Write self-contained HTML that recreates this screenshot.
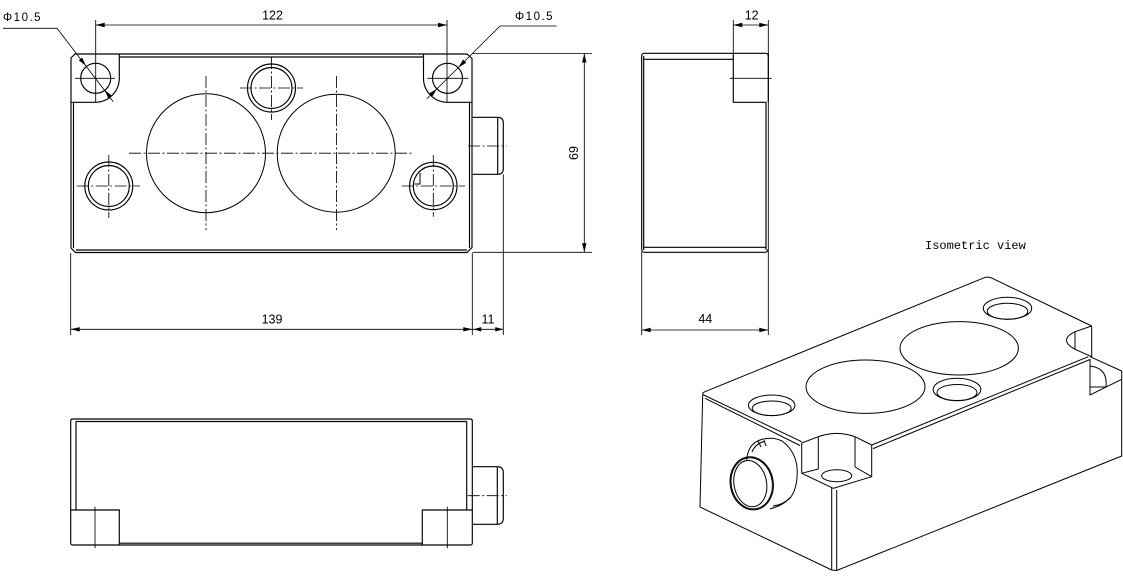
<!DOCTYPE html>
<html><head><meta charset="utf-8"><style>
html,body{margin:0;padding:0;background:#fff;}
svg{display:block;}
text{font-family:"Liberation Sans",sans-serif;fill:#000;}
</style></head><body>
<svg width="1123" height="580" viewBox="0 0 1123 580" xmlns="http://www.w3.org/2000/svg">
<rect width="1123" height="580" fill="#fff"/>

<!-- ================= FRONT VIEW ================= -->
<g fill="none" stroke="#000" stroke-width="1.15">
  <path d="M75,54 L467,54 L472,58.5 L472,247.5 L467,252.5 L75.5,252.5 L71,248 L71,58 Z"/>
  <path d="M119.3,54 V78.3 A24,24 0 0 1 95.3,102.3 H71"/>
  <path d="M423.5,54 V78.3 A24,24 0 0 0 447.5,102.3 H472"/>
  <path d="M119.3,57 H423.5 M73.5,102.3 V248 M469.5,102.3 V248 M76,250 H467"/>
  <circle cx="95.7" cy="78.3" r="15"/>
  <circle cx="447.5" cy="78.3" r="15"/>
  <circle cx="206" cy="153.2" r="59.5" stroke-width="1"/>
  <circle cx="336.2" cy="153.2" r="59" stroke-width="1"/>
  <circle cx="271.5" cy="88" r="24"/>
  <circle cx="271.5" cy="88" r="20.5"/>
  <circle cx="108.8" cy="186" r="24"/>
  <circle cx="108.8" cy="186" r="20.5"/>
  <circle cx="433.3" cy="186" r="23.7"/>
  <circle cx="433.3" cy="186" r="20"/>
  <path d="M420,173 V184 H414.5" stroke-width="1"/>
  <!-- connector -->
  <path d="M472.7,117.3 H497.7 Q503.3,117.3 503.3,123 V168.6 Q503.3,174.3 497.7,174.3 H472.7"/>
  <path d="M497.7,117.3 V174.3"/>
</g>
<!-- center lines front -->
<g fill="none" stroke="#000" stroke-width="0.85" stroke-dasharray="12 2.5 2 2.5">
  <path d="M129,153.2 H413"/>
  <path d="M206,76 V230"/>
  <path d="M336.5,76 V230"/>
  <path d="M240,88 H303"/>
  <path d="M271.5,57 V120"/>
  <path d="M76.7,186 H140"/>
  <path d="M108.8,155 V218"/>
  <path d="M401.7,186 H465"/>
  <path d="M433.3,155 V216.7"/>
  <path d="M468,146 H506.7"/>
</g>
<g fill="none" stroke="#000" stroke-width="0.85">
  <path d="M75,78.3 H115 M427.3,78.3 H468.3"/>
  <path d="M95.7,20 V102 M447,20 V102"/>
  <!-- leaders -->
  <path d="M3,28.3 H57 L113.3,101.7"/>
  <path d="M556.7,26 H500 L426.7,99"/>
  <!-- dim 122 -->
  <path d="M95.7,25 H447"/>
  <!-- 69 dim -->
  <path d="M472,53.5 H592 M472.5,252.3 H592 M584.3,53.5 V252.3"/>
  <!-- 139 / 11 dims -->
  <path d="M70.7,253 V335 M472.3,253 V335 M503.3,174.3 V335"/>
  <path d="M70.7,329.3 H503.3"/>
</g>
<g fill="#000" stroke="none">
  <polygon points="86,66 78.8,60.2 82.2,57.6"/>
  <polygon points="104.4,89.7 108.2,98.1 111.6,95.5"/>
  <polygon points="458.3,67.6 466.3,62.8 463.1,59.6"/>
  <polygon points="437,88.8 432.2,96.8 429,93.6"/>
  <polygon points="95.7,25 104.7,22.8 104.7,27.2"/>
  <polygon points="447,25 438,22.8 438,27.2"/>
  <polygon points="584.3,53.5 582.1,62.5 586.5,62.5"/>
  <polygon points="584.3,252.3 582.1,243.3 586.5,243.3"/>
  <polygon points="70.7,329.3 79.7,327.1 79.7,331.5"/>
  <polygon points="472.3,329.3 463.3,327.1 463.3,331.5"/>
  <polygon points="473.3,329.3 481.3,327.1 481.3,331.5"/>
  <polygon points="503.3,329.3 495.3,327.1 495.3,331.5"/>
</g>
<g font-size="11.5">
  <text x="3" y="21" letter-spacing="1.5">Φ10.5</text>
  <text x="515" y="20" letter-spacing="1.5">Φ10.5</text>
</g>
<g font-size="12.5" text-anchor="middle">
  <text x="272.5" y="19.5">122</text>
  <text x="272" y="323.3">139</text>
  <text x="488" y="323.3">11</text>
  <text x="705.3" y="323">44</text>
  <text x="751.7" y="19.3">12</text>
  <text transform="translate(578,153) rotate(-90)" x="0" y="0">69</text>
</g>

<!-- ================= SIDE VIEW ================= -->
<g fill="none" stroke="#000" stroke-width="1.15">
  <path d="M641.7,56 Q641.7,53.3 644.5,53.3 H765.5 Q768.3,53.3 768.3,56"/>
  <path d="M641.7,56 V249.5 Q641.7,252.3 644.5,252.3 H765 Q767.7,252.3 767.7,249.5"/>
  <path d="M643.7,56 V250 M643.7,59.3 H733.3 M733.3,53.3 V102.3 H766 V250 M643.7,247.3 H766"/>
  <path d="M768.3,53.3 V102.3"/>
</g>
<g fill="none" stroke="#000" stroke-width="0.85">
  <path d="M733.3,20 V53.3 M768.3,20 V335 M641.7,252.3 V335"/>
  <path d="M733.3,25 H768.3"/>
  <path d="M641.7,330 H768.3"/>
  <path d="M730,78.3 H771.7"/>
</g>
<g fill="#000">
  <polygon points="733.3,25 742.3,22.8 742.3,27.2"/>
  <polygon points="768.3,25 759.3,22.8 759.3,27.2"/>
  <polygon points="641.7,330 650.7,327.8 650.7,332.2"/>
  <polygon points="768.3,330 759.3,327.8 759.3,332.2"/>
</g>

<!-- ================= BOTTOM VIEW ================= -->
<g fill="none" stroke="#000" stroke-width="1.15">
  <path d="M72.7,419 H470.3 Q472.3,419 472.3,421 V543 Q472.3,545 470.3,545 H72.7 Q70.7,545 70.7,543 V421 Q70.7,419 72.7,419 Z"/>
  <path d="M76,421.5 H466.7 M76,421.5 V510 M466.7,421.5 V510"/>
  <path d="M70.7,510 H119.3 V545 M422.3,545 V510 H472.3 M119.3,543.2 H422.3"/>
  <path d="M472.3,466.7 H497.3 Q503.3,466.7 503.3,472.7 V518.3 Q503.3,524.3 497.3,524.3 H472.3 M497.3,466.7 V524.3"/>
</g>
<g fill="none" stroke="#000" stroke-width="0.85">
  <path d="M95,506.7 V548.3 M447.3,506.7 V548.3"/>
  <path d="M467.7,495.7 H506.7" stroke-dasharray="12 2.5 2 2.5"/>
</g>

<!-- ================= ISOMETRIC VIEW ================= -->
<text x="925" y="249" font-size="12" style="font-family:'Liberation Mono',monospace">Isometric view</text>
<g fill="none" stroke="#000" stroke-width="1">
  <!-- top face -->
  <path d="M702.7,394.5 Q702.5,392.5 705,391.7 L984,277.8 Q988,276.3 992,278.2 L1091.7,326"/>
  <path d="M1091.7,326 L1075,331.7 Q1058,340 1075,349.3 L1091.7,356.7 M1075,331.7 V349.3 M1091.7,326 V357"/>
  <path d="M871.7,445 L1088.3,356.7 M873,448.6 L1090,359.5"/>
  <path d="M702.7,394.5 L801.7,441.7 M705,398.3 L800,445.5"/>
  <!-- left face -->
  <path d="M702.7,395 L700,507 L831.7,570 L836.7,570.5 L1121.7,456 V371"/>
  <path d="M831.7,488.3 V570 M836.7,490 V570"/>
  <!-- back-right pad -->
  <path d="M1090,356.7 L1121.7,371 M1090,359 V395 L1121.7,379.3"/>
  <path d="M1090,366 Q1108,368 1106,387 L1090,387"/>
  <!-- front notch -->
  <path d="M801.7,443 L818.3,436.7 Q836.7,430 855,436.7 L871.7,445"/>
  <path d="M801.7,443 V473.3 M818.3,436.7 V469 M855,436.7 V467 M871.7,445 V476.7"/>
  <path d="M801.7,473.3 L833.3,488.3 L871.7,476.7"/>
  <path d="M801.7,473.3 L818.3,469 M855,467 L871.7,476.7"/>
  <ellipse cx="836.7" cy="475.7" rx="15" ry="6"/>
  <!-- holes on top -->
  <ellipse cx="771.7" cy="405.3" rx="23.3" ry="10.3"/>
  <ellipse cx="771.7" cy="408.3" rx="19.5" ry="7.3"/>
  <ellipse cx="865.5" cy="386.7" rx="59.5" ry="26.7"/>
  <ellipse cx="959.2" cy="348.3" rx="59.2" ry="26.7"/>
  <ellipse cx="957" cy="389.5" rx="23.8" ry="11.2"/>
  <ellipse cx="957" cy="392.5" rx="20" ry="8"/>
  <ellipse cx="1007.5" cy="308.3" rx="24.2" ry="11"/>
  <ellipse cx="1007.5" cy="311.3" rx="20.3" ry="8"/>
  <!-- connector -->
  <path d="M746.7,460 Q748,444 760,440 Q772,436 782,441 Q797,452 797.3,472 Q797,490 790,498 Q782,506 770,509"/>
  <path d="M752,452 Q755,444 764,441.5"/>
  <path d="M758,441 L761,447 M764,440 L766,446"/>
  <path d="M773,506 Q783,505 791,497"/>
  <ellipse cx="751.7" cy="483.3" rx="21.5" ry="26.7" transform="rotate(-10 751.7 483.3)"/>
  <ellipse cx="751.7" cy="483.3" rx="20.5" ry="25.7" transform="rotate(-10 751.7 483.3)"/>
  <ellipse cx="750.3" cy="483.6" rx="16.3" ry="23.3" transform="rotate(-10 750.3 483.6)"/>
</g>
</svg>
</body></html>
